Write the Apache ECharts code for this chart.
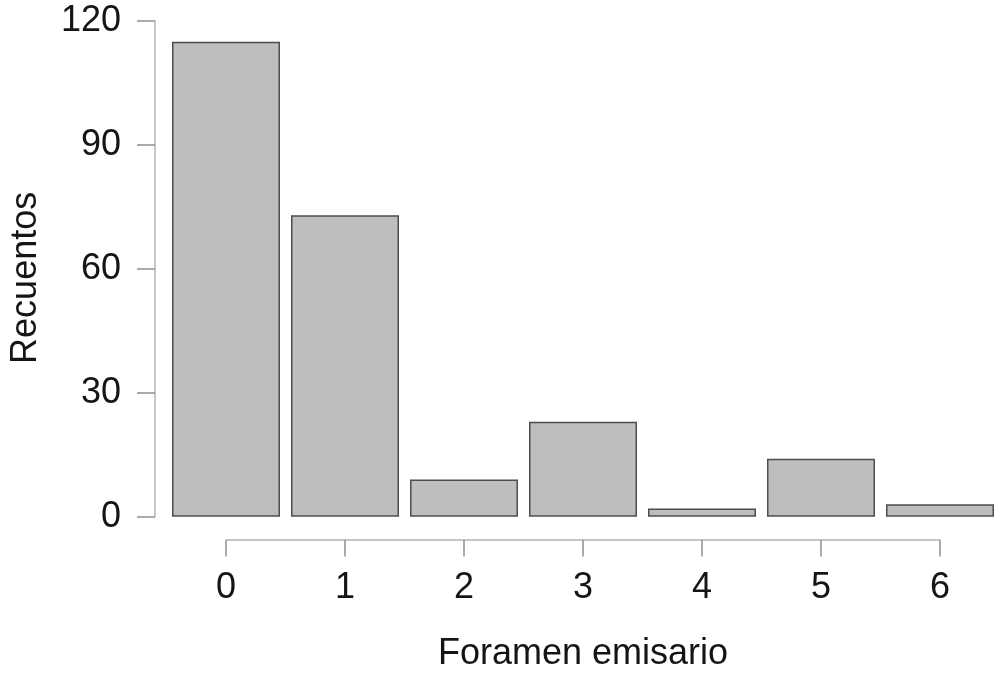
<!DOCTYPE html>
<html>
<head>
<meta charset="utf-8">
<script src="https://cdn.jsdelivr.net/npm/echarts@6/dist/echarts.min.js"></script>
<style>html,body{margin:0;padding:0;background:#fff;}#c{width:1006px;height:674px;}</style>
</head>
<body>
<div id="c"></div>
<script>
var categories = ['0', '1', '2', '3', '4', '5', '6'];
var counts = [115, 73, 9, 23, 2, 14, 3];
var yTicks = { min: 0, max: 120, interval: 30 };
var xTitle = 'Foramen emisario';
var yTitle = 'Recuentos';

var FONT = '"Liberation Sans", Arial, sans-serif';
var chart = echarts.init(document.getElementById('c'), null, { renderer: 'canvas' });
chart.setOption({
  animation: false,
  backgroundColor: '#ffffff',
  grid: [
    { left: 166.5, right: 6.5, top: 21, bottom: 157.3, outerBoundsMode: 'none', containLabel: false },
    { left: 226, right: 66, top: 21, bottom: 157.3, outerBoundsMode: 'none', containLabel: false }
  ],
  xAxis: [
    { gridIndex: 0, type: 'category', data: categories,
      axisLine: { show: false }, axisTick: { show: false }, axisLabel: { show: false } },
    { gridIndex: 1, type: 'category', data: categories, boundaryGap: false, offset: 23.3,
      axisLine: { show: true, onZero: false, lineStyle: { color: '#b4b4b4', width: 1.5 } },
      axisTick: { show: true, length: 16.5, lineStyle: { color: '#909090', width: 1.5 } },
      axisLabel: { margin: 30, fontSize: 36, color: '#151515', fontFamily: FONT },
      splitLine: { show: false },
      name: xTitle, nameLocation: 'middle', nameGap: 96,
      nameTextStyle: { fontSize: 36, color: '#151515', fontFamily: FONT } }
  ],
  yAxis: [
    { gridIndex: 0, type: 'value', min: yTicks.min, max: yTicks.max, interval: yTicks.interval,
      offset: 11.5,
      axisLine: { show: true, onZero: false, lineStyle: { color: '#b4b4b4', width: 1.5 } },
      axisTick: { show: true, length: 18, lineStyle: { color: '#909090', width: 1.5 } },
      axisLabel: { margin: 34, fontSize: 36, color: '#151515', fontFamily: FONT },
      splitLine: { show: false },
      name: yTitle, nameLocation: 'middle', nameGap: 111,
      nameTextStyle: { fontSize: 36, color: '#151515', fontFamily: FONT, padding: [0, 18, 0, 0] } },
    { gridIndex: 1, type: 'value', show: false, min: 0, max: 120 }
  ],
  series: [
    { type: 'bar', xAxisIndex: 0, yAxisIndex: 0, data: counts,
      barWidth: 108,
      itemStyle: { color: '#bebebe', borderColor: '#4d4d4d', borderWidth: 1.5 } }
  ]
});
</script>
</body>
</html>
